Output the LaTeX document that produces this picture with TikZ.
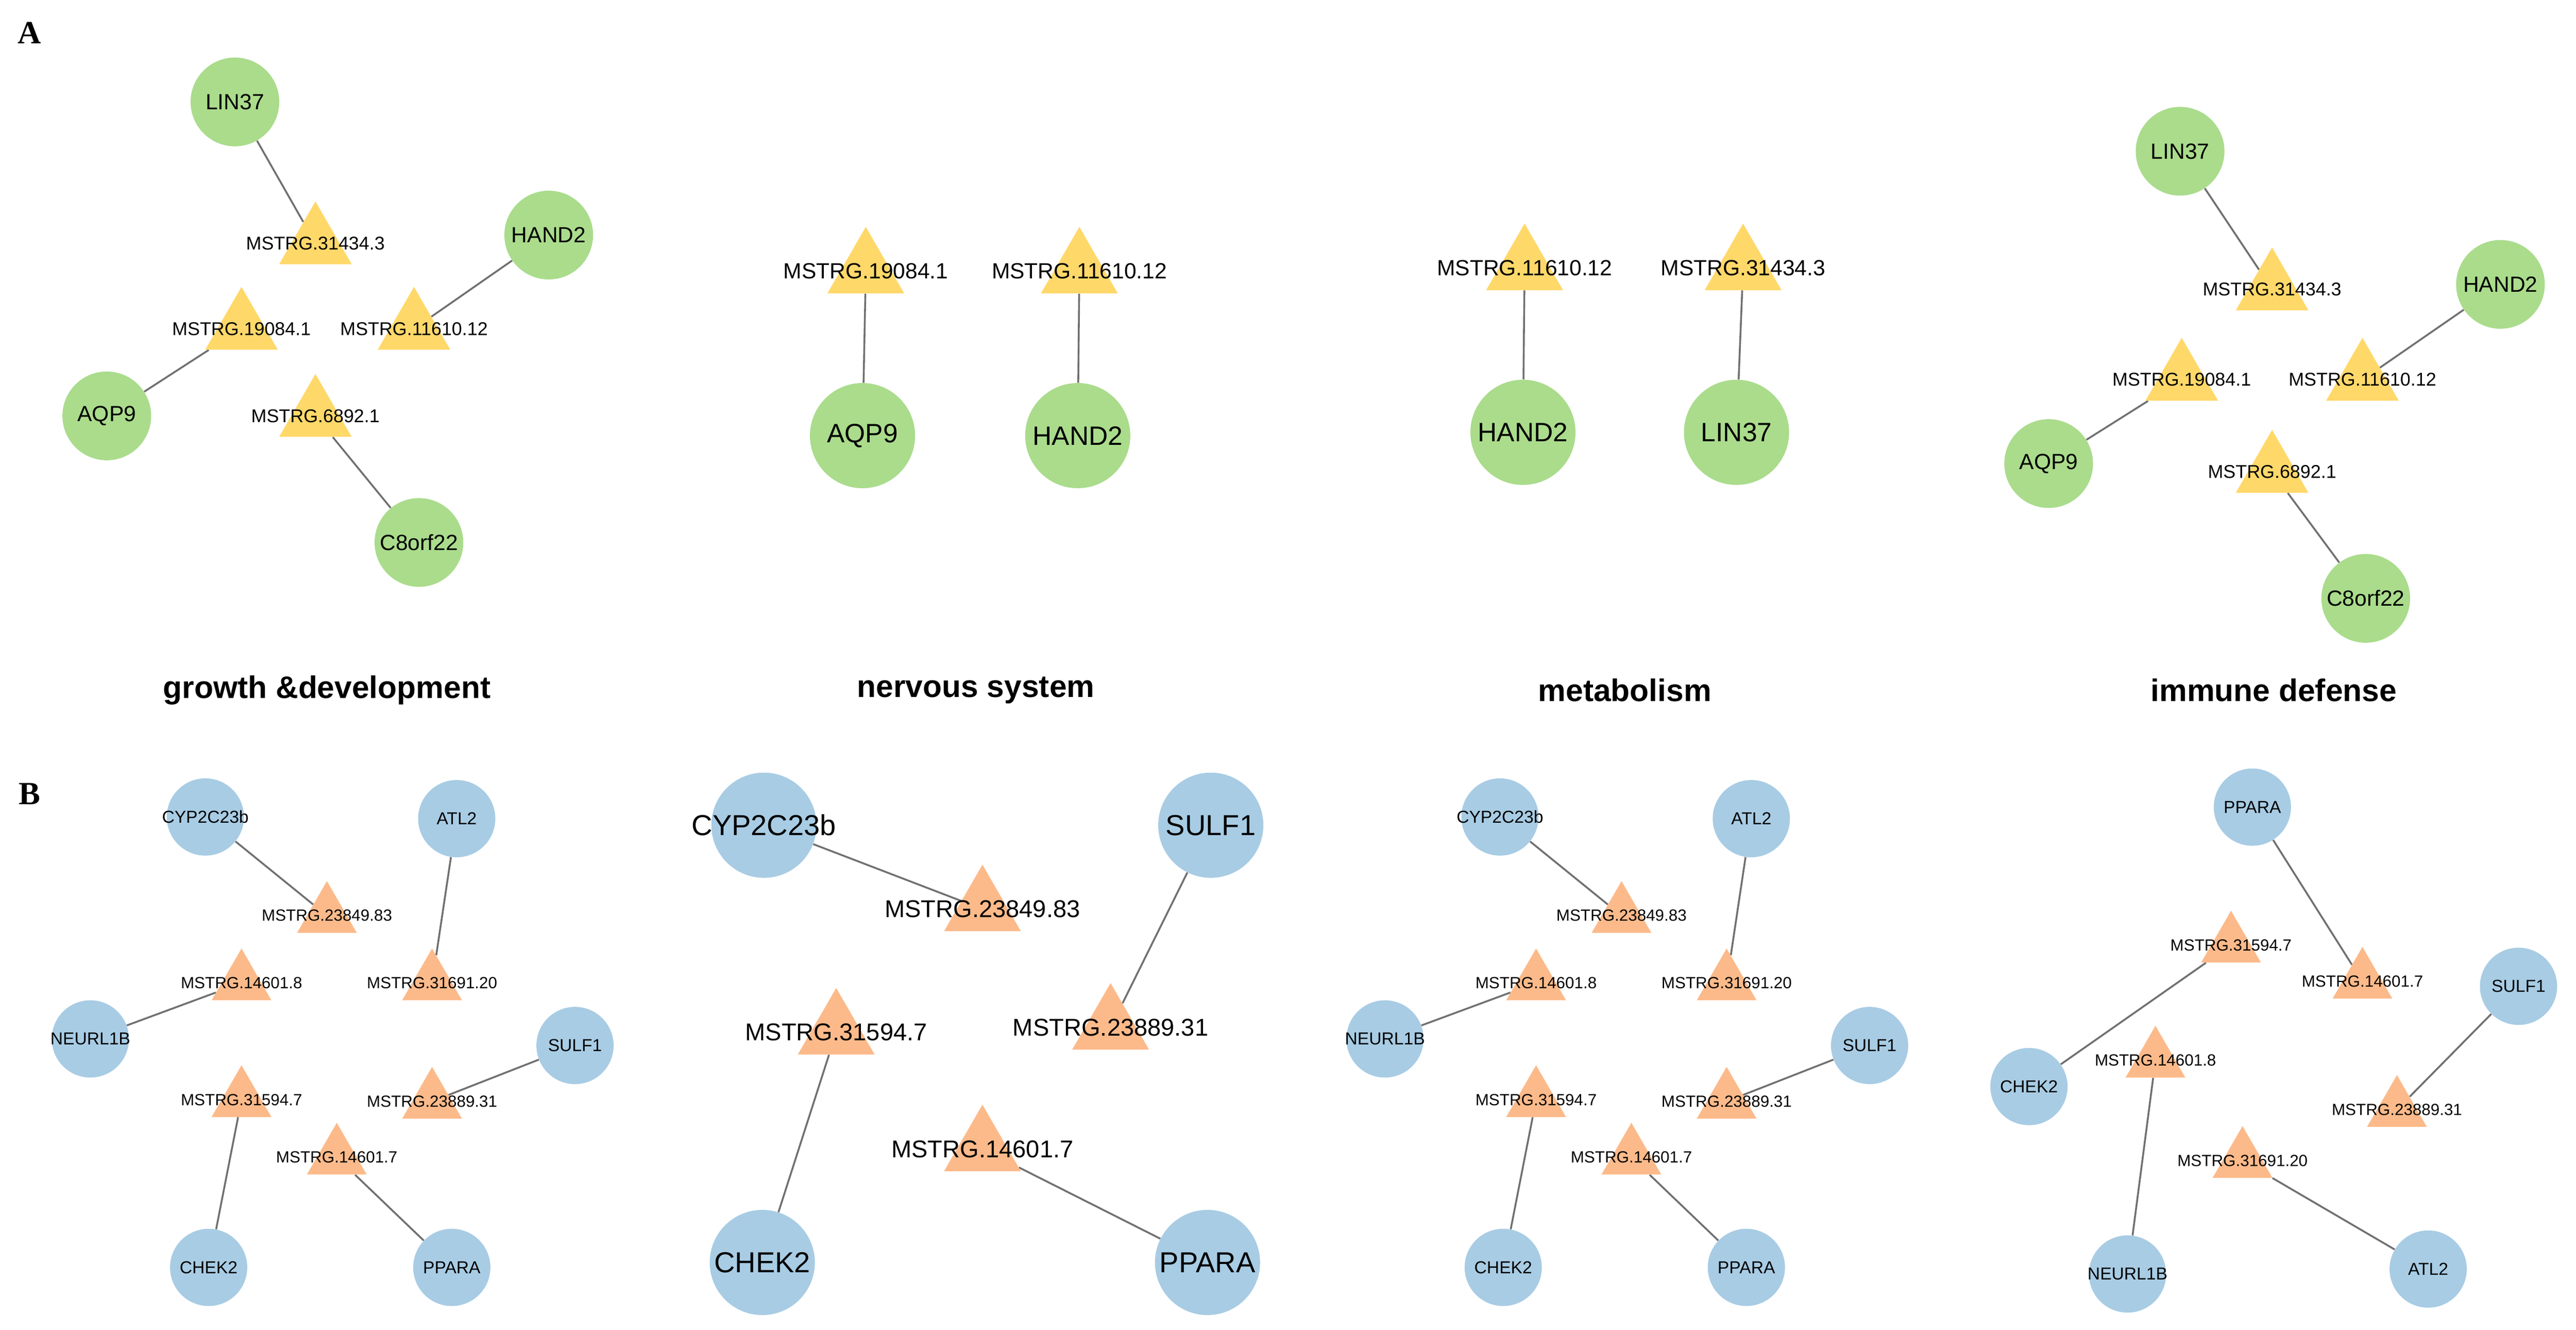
\documentclass[tikz,border=0pt]{standalone}
\usepackage{fontspec}
\setmainfont{Liberation Sans}
\newfontfamily\serifA{Liberation Serif}
\usetikzlibrary{shapes.geometric,backgrounds}
\definecolor{gr}{HTML}{AADC8C}
\definecolor{ye}{HTML}{FFD86A}
\definecolor{bl}{HTML}{A8CCE4}
\definecolor{or}{HTML}{FCBA8A}
\definecolor{ed}{HTML}{707070}
\newcommand\Tri[5]{\node[#1] (#2) at (#3) {}; \node[lab#5] at (#3) {#4};}
\newcommand\Cir[5]{\node[#1] (#2) at (#3) {}; \node[lab#5] at (#3) {#4};}
\begin{document}
\begin{tikzpicture}[x=0.05cm,y=-0.05cm,
 gc/.style={circle,fill=gr,minimum size=2.7cm,inner sep=0},
 gC/.style={circle,fill=gr,minimum size=3.2cm,inner sep=0},
 yt/.style={regular polygon,regular polygon sides=3,fill=ye,minimum size=2.55cm,inner sep=0},
 yT/.style={regular polygon,regular polygon sides=3,fill=ye,minimum size=2.7cm,inner sep=0},
 bc/.style={circle,fill=bl,minimum size=2.35cm,inner sep=0},
 bC/.style={circle,fill=bl,minimum size=3.2cm,inner sep=0},
 ot/.style={regular polygon,regular polygon sides=3,fill=or,minimum size=2.1cm,inner sep=0},
 oT/.style={regular polygon,regular polygon sides=3,fill=or,minimum size=2.7cm,inner sep=0},
 labg/.style={inner sep=0,font=\fontsize{19}{19}\selectfont},
 labG/.style={inner sep=0,font=\fontsize{23}{23}\selectfont},
 labc/.style={inner sep=0,font=\fontsize{15}{15}\selectfont},
 labC/.style={inner sep=0,font=\fontsize{25}{25}\selectfont},
 laba/.style={inner sep=0,font=\fontsize{16}{16}\selectfont},
 labA/.style={inner sep=0,font=\fontsize{19}{19}\selectfont},
 labb/.style={inner sep=0,font=\fontsize{14}{14}\selectfont},
 labB/.style={inner sep=0,font=\fontsize{21}{21}\selectfont},
 e/.style={draw=ed,line width=1.6pt},
 ttl/.style={font=\bfseries\fontsize{27}{27}\selectfont},
 let/.style={font=\serifA\bfseries\fontsize{28}{28}\selectfont}]
\useasboundingbox (0,0) rectangle (1568,809);
\node[let] at (18,20) {A};
\node[let] at (18,483) {B};
\node[ttl] at (199,420) {growth \&development};
\node[ttl] at (594,420) {nervous system};
\node[ttl] at (989,420) {metabolism};
\node[ttl] at (1384,420) {immune defense};
% A1
\Cir{gc}{a1l}{143,62}{LIN37}{g}
\Cir{gc}{a1h}{334,143}{HAND2}{g}
\Cir{gc}{a1a}{65,253}{AQP9}{g}
\Cir{gc}{a1c}{255,330}{C8orf22}{g}
\Tri{yt}{a1t1}{192,148}{MSTRG.31434.3}{a}
\Tri{yt}{a1t2}{147,200}{MSTRG.19084.1}{a}
\Tri{yt}{a1t3}{252,200}{MSTRG.11610.12}{a}
\Tri{yt}{a1t4}{192,253}{MSTRG.6892.1}{a}
% A2
\Cir{gC}{a2a}{525,265}{AQP9}{G}
\Cir{gC}{a2h}{656,265}{HAND2}{G}
\Tri{yT}{a2t1}{527,165}{MSTRG.19084.1}{A}
\Tri{yT}{a2t2}{657,165}{MSTRG.11610.12}{A}
% A3
\Cir{gC}{a3h}{927,263}{HAND2}{G}
\Cir{gC}{a3l}{1057,263}{LIN37}{G}
\Tri{yT}{a3t1}{928,163}{MSTRG.11610.12}{A}
\Tri{yT}{a3t2}{1061,163}{MSTRG.31434.3}{A}
% A4
\Cir{gc}{a4l}{1327,92}{LIN37}{g}
\Cir{gc}{a4h}{1522,173}{HAND2}{g}
\Cir{gc}{a4a}{1247,282}{AQP9}{g}
\Cir{gc}{a4c}{1440,364}{C8orf22}{g}
\Tri{yt}{a4t1}{1383,176}{MSTRG.31434.3}{a}
\Tri{yt}{a4t2}{1328,231}{MSTRG.19084.1}{a}
\Tri{yt}{a4t3}{1438,231}{MSTRG.11610.12}{a}
\Tri{yt}{a4t4}{1383,287}{MSTRG.6892.1}{a}
% B1 and B3
\foreach \p/\dx in {b1/0,b3/788}{
\Cir{bc}{\p cy}{125+\dx,497}{CYP2C23b}{c}
\Cir{bc}{\p at}{278+\dx,498}{ATL2}{c}
\Cir{bc}{\p ne}{55+\dx,632}{NEURL1B}{c}
\Cir{bc}{\p su}{350+\dx,636}{SULF1}{c}
\Cir{bc}{\p ch}{127+\dx,771}{CHEK2}{c}
\Cir{bc}{\p pp}{275+\dx,771}{PPARA}{c}
\Tri{ot}{\p t1}{199+\dx,557}{MSTRG.23849.83}{b}
\Tri{ot}{\p t2}{147+\dx,598}{MSTRG.14601.8}{b}
\Tri{ot}{\p t3}{263+\dx,598}{MSTRG.31691.20}{b}
\Tri{ot}{\p t4}{147+\dx,669}{MSTRG.31594.7}{b}
\Tri{ot}{\p t5}{263+\dx,670}{MSTRG.23889.31}{b}
\Tri{ot}{\p t6}{205+\dx,704}{MSTRG.14601.7}{b}
\begin{scope}[on background layer]
\draw[e] (\p cy)--(\p t1); \draw[e] (\p at)--(\p t3); \draw[e] (\p ne)--(\p t2);
\draw[e] (\p su)--(\p t5); \draw[e] (\p ch)--(\p t4); \draw[e] (\p pp)--(\p t6);
\end{scope}}
% B2
\Cir{bC}{b2cy}{465,502}{CYP2C23b}{C}
\Cir{bC}{b2su}{737,502}{SULF1}{C}
\Cir{bC}{b2ch}{464,768}{CHEK2}{C}
\Cir{bC}{b2pp}{735,768}{PPARA}{C}
\Tri{oT}{b2t1}{598,553}{MSTRG.23849.83}{B}
\Tri{oT}{b2t2}{509,628}{MSTRG.31594.7}{B}
\Tri{oT}{b2t3}{676,625}{MSTRG.23889.31}{B}
\Tri{oT}{b2t4}{598,699}{MSTRG.14601.7}{B}
% B4
\Cir{bc}{b4pp}{1371,491}{PPARA}{c}
\Cir{bc}{b4ch}{1235,661}{CHEK2}{c}
\Cir{bc}{b4su}{1533,600}{SULF1}{c}
\Cir{bc}{b4ne}{1295,775}{NEURL1B}{c}
\Cir{bc}{b4at}{1478,772}{ATL2}{c}
\Tri{ot}{b4t1}{1358,575}{MSTRG.31594.7}{b}
\Tri{ot}{b4t2}{1438,597}{MSTRG.14601.7}{b}
\Tri{ot}{b4t3}{1312,645}{MSTRG.14601.8}{b}
\Tri{ot}{b4t4}{1459,675}{MSTRG.23889.31}{b}
\Tri{ot}{b4t5}{1365,706}{MSTRG.31691.20}{b}
\begin{scope}[on background layer]
\draw[e] (a1l)--(a1t1); \draw[e] (a1h)--(a1t3); \draw[e] (a1a)--(a1t2); \draw[e] (a1c)--(a1t4);
\draw[e] (a2a)--(a2t1); \draw[e] (a2h)--(a2t2);
\draw[e] (a3h)--(a3t1); \draw[e] (a3l)--(a3t2);
\draw[e] (a4l)--(a4t1); \draw[e] (a4h)--(a4t3); \draw[e] (a4a)--(a4t2); \draw[e] (a4c)--(a4t4);
\draw[e] (b2cy)--(b2t1); \draw[e] (b2su)--(b2t3); \draw[e] (b2ch)--(b2t2); \draw[e] (b2pp)--(b2t4);
\draw[e] (b4pp)--(b4t2); \draw[e] (b4ch)--(b4t1); \draw[e] (b4su)--(b4t4); \draw[e] (b4ne)--(b4t3); \draw[e] (b4at)--(b4t5);
\end{scope}
\end{tikzpicture}
\end{document}
